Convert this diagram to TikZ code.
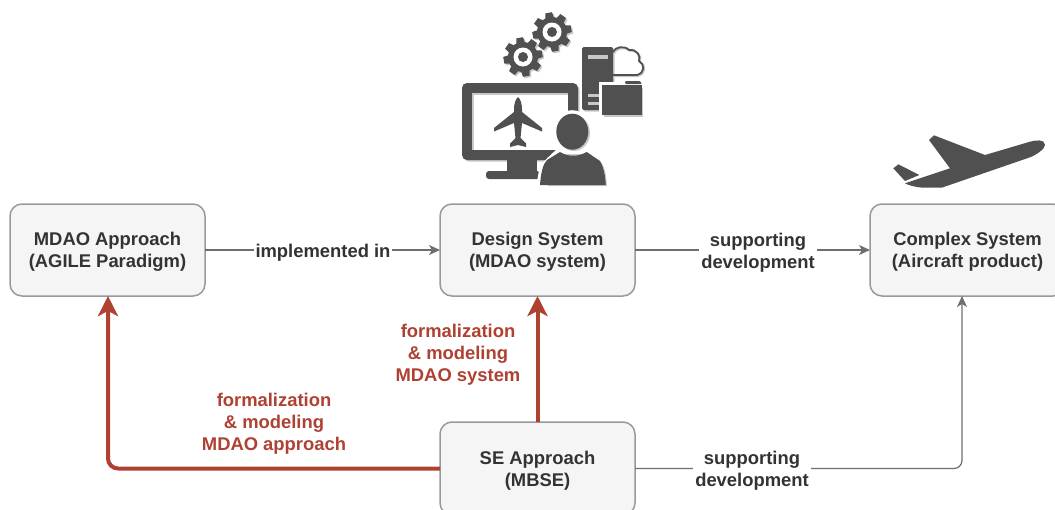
\documentclass[tikz,border=0pt]{standalone}
\usepackage{fontspec}
\setmainfont{Liberation Sans}
\usetikzlibrary{arrows.meta,calc}
\definecolor{ink}{HTML}{333333}
\definecolor{boxline}{HTML}{999999}
\definecolor{boxfill}{HTML}{F5F5F5}
\definecolor{flow}{HTML}{6E6E6E}
\definecolor{redflow}{HTML}{AE4132}
\definecolor{icon}{HTML}{505050}
\definecolor{iconshade}{HTML}{C8C8C8}
\newcommand{\lowerfirst}{\rule{0pt}{17.4pt}}
\tikzset{
  x=1pt,y=-1pt,
  stagebox/.style={draw=boxline,line width=1.5pt,fill=boxfill,rounded corners=12pt,minimum width=195pt,minimum height=92pt,inner sep=0pt,outer sep=0pt,align=center,text=ink,font=\fontsize{18.4}{22}\selectfont\bfseries},
  flowline/.style={draw=flow,line width=1.2pt,-{Stealth[length=11pt,width=10pt,inset=3pt]},rounded corners=8pt},
  redline/.style={draw=redflow,line width=4pt,-{Stealth[length=20pt,width=20pt,inset=5pt]},rounded corners=10pt},
  graylabel/.style={fill=white,inner sep=2pt,align=center,text=ink,font=\fontsize{18.4}{22}\selectfont\bfseries},
  redlabel/.style={inner sep=0pt,align=center,text=redflow,font=\fontsize{18.4}{22}\selectfont\bfseries},
}
\newcommand{\gearicon}[3]{% x y colour
  \foreach \a in {0,45,...,315}{
    \fill[#3,rotate around={\a+10:(#1,#2)}] (#1-3.4,#2-19.5) -- (#1+3.4,#2-19.5) -- (#1+5,#2-10) -- (#1-5,#2-10) -- cycle;
  }
  \fill[#3] (#1,#2) circle[radius=15];
}
\begin{document}
\begin{tikzpicture}
\useasboundingbox (0,0) rectangle (1055,509);
\clip (0,0) rectangle (1055,509);
% boxes
\node[stagebox] (mdao) at (107.5,250) {\lowerfirst MDAO Approach\\(AGILE Paradigm)};
\node[stagebox] (design) at (537.5,250) {\lowerfirst Design System\\(MDAO system)};
\node[stagebox] (complex) at (967.5,250) {\lowerfirst Complex System\\(Aircraft product)};
\node[stagebox,minimum height=93pt] (se) at (537.5,468.5) {\lowerfirst SE Approach\\(MBSE)};
\coordinate (complexin) at (962,296);
\coordinate (mdaoin) at (108,296);
% connectors
\draw[flowline] (mdao) -- (design);
\draw[flowline] (design) -- (complex);
\draw[flowline] (se.east) -| (complexin);
\draw[redline] (se.west) -| (mdaoin);
\draw[redline] (se.north) -- (design.south);
% labels
\node[graylabel] (limpl) at (323,253) {implemented in};
\node[graylabel] (lsup1) at (758,253) {supporting\\development};
\node[graylabel] (lsup2) at (752,471) {supporting\\development};
\node[redlabel] (lred1) at (458,355) {formalization\\\& modeling\\MDAO system};
\node[redlabel] (lred2) at (274,424) {formalization\\\& modeling\\MDAO approach};
% big plane
\fill[icon] (893.3,168.3) -- (898.3,164.3) -- (919.3,175) -- (905,181) -- cycle;
\fill[icon] (905,183.3) -- (950,168.3) -- (929,140) -- (934,135.3) -- (985,155) -- (1030,141.7)
  .. controls (1036,140) and (1045,139) .. (1045,145)
  .. controls (1045,149) and (1036,155) .. (1030,157.3)
  -- (941.7,187.7) -- (923,187.7) .. controls (915,187) and (909,185.5) .. (905,183.3) -- cycle;
% gears
\begin{scope}
\gearicon{524.5}{58.5}{iconshade}
\gearicon{553.5}{33.5}{iconshade}
\gearicon{523}{57}{icon}
\gearicon{552}{32}{icon}
\foreach \p in {(523,57),(552,32)}{
  \fill[white] \p circle[radius=9.5];
  \fill[icon] \p circle[radius=5];
}
\end{scope}
% server
\fill[iconshade,rounded corners=1.5pt] (583.5,48.5) rectangle (614.5,111.5);
\fill[icon,rounded corners=1.5pt] (582,47) rectangle (613,110);
\fill[iconshade] (588,55) rectangle (608,58.5);
\fill[iconshade] (588,94) rectangle (600,97);
\fill[iconshade] (588,102) rectangle (600,105);
% cloud
\draw[iconshade,line width=2pt,line join=round] (614,53.5) .. controls (616,48) and (625,46) .. (630,51)
  .. controls (638,50) and (642,57) .. (640,62) .. controls (646,65) and (646,74) .. (638,76) -- (614,76);
\draw[icon,line width=1.8pt,line join=round] (613,52) .. controls (615,47) and (624,45) .. (629,50)
  .. controls (637,49) and (641,56) .. (639,61) .. controls (645,64) and (645,73) .. (637,75) -- (613,75);
% folder
\fill[white] (599,82) rectangle (646,118);
\fill[iconshade] (604,88) -- (643,88) -- (643,117) -- (604,117) -- cycle;
\fill[icon,rounded corners=1pt] (625,84) -- (625,81) -- (640,81) -- (642,84) -- cycle;
\fill[icon] (602,85) rectangle (642,115);
% monitor
\fill[iconshade,rounded corners=5pt] (463.5,84.5) rectangle (579.5,161.5);
\fill[icon,rounded corners=5pt] (462,83) rectangle (578,160);
\fill[white] (472,93) rectangle (568,150);
\fill[iconshade] (472,93) rectangle (474,150);
\fill[iconshade] (472,93) rectangle (568,95);
\fill[icon] (507,160) rectangle (537,172);
\fill[icon,rounded corners=3pt] (486,171) rectangle (540,179);
% small plane
\fill[icon] (518,97) .. controls (520.5,99) and (522,104) .. (522,109) -- (522,112) -- (542,128) -- (542,131.5) -- (522,123)
  -- (520.5,138) -- (526,143.5) -- (526,147) -- (518,145) -- (510,147) -- (510,143.5) -- (515.5,138)
  -- (514,123) -- (494,131.5) -- (494,128) -- (514,112) -- (514,109) .. controls (514,104) and (515.5,99) .. (518,97) -- cycle;
% person
\fill[white] (572.3,131.7) ellipse[x radius=19.5,y radius=21.5];
\fill[white] (536,187) -- (540,165) -- (558,148) -- (590,148) -- (603,161) -- (610,187) -- cycle;
\fill[iconshade] (574,133) ellipse[x radius=16,y radius=18];
\fill[icon] (572.3,131.7) ellipse[x radius=16,y radius=18];
\fill[iconshade] (607,186) .. controls (606,172) and (604,164) .. (600,162) -- (589,154) -- (562,154) -- (548,162) -- (548,186) -- cycle;
\fill[icon] (540,185) .. controls (541,172) and (543,164) .. (547,160) -- (560,152) .. controls (568,157) and (578,157) .. (586.7,152)
  -- (600,161) .. controls (603,166) and (605.5,175) .. (605.7,185) -- cycle;
\end{tikzpicture}
\end{document}
